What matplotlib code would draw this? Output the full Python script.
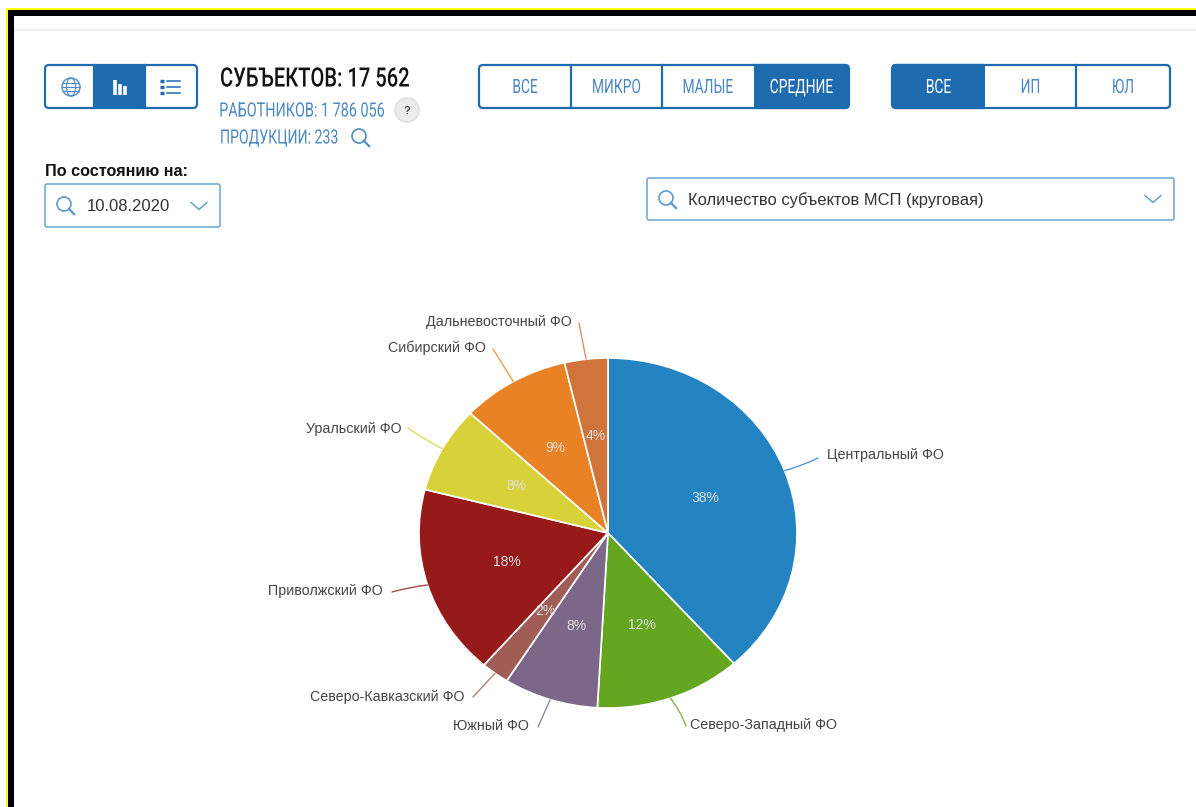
import numpy as np
import matplotlib
matplotlib.use('Agg')
import matplotlib.pyplot as plt
from matplotlib.patches import Rectangle, FancyBboxPatch, Circle, Ellipse
from matplotlib.patheffects import AbstractPathEffect
from matplotlib.text import Text
from matplotlib.transforms import Affine2D, Bbox

NARROW = 'Roboto'
SANS = 'Liberation Sans'

regions = ['Центральный ФО', 'Северо-Западный ФО', 'Южный ФО', 'Северо-Кавказский ФО',
           'Приволжский ФО', 'Уральский ФО', 'Сибирский ФО', 'Дальневосточный ФО']
shares = [38.4, 12.5, 8.1, 2.4, 17.6, 8.0, 9.3, 3.7]
pct_labels = ['38%', '12%', '8%', '2%', '18%', '8%', '9%', '4%']
colors = ['#2484c1', '#65a620', '#7b6888', '#a05d56', '#961a1a', '#d8d23a', '#e98125', '#d0743c']
date_label = '10.08.2020'
title = 'СУБЪЕКТОВ: 17 562'
workers = 'РАБОТНИКОВ: 1 786 056'
products = 'ПРОДУКЦИИ: 233'
size_buttons = ['ВСЕ', 'МИКРО', 'МАЛЫЕ', 'СРЕДНИЕ']
type_buttons = ['ВСЕ', 'ИП', 'ЮЛ']

W, H = 1196, 807
BLUE = '#1f6bb0'
LBLUE = '#4f8dc4'
TBLUE = '#4a88c2'
ICON = '#5b9bd0'
fig = plt.figure(figsize=(W / 100, H / 100), dpi=100, facecolor='white')

ui = fig.add_axes([0, 0, 1, 1], zorder=0)
ui.set_xlim(0, W); ui.set_ylim(H, 0); ui.axis('off')
ui.add_patch(Rectangle((6, 8), W, H, fc='#ffff00', ec='none'))
ui.add_patch(Rectangle((8, 10), W, H, fc='black', ec='none'))
ui.add_patch(Rectangle((14, 16), W, H, fc='white', ec='none'))
ui.plot([15, W], [30, 30], color='#e8effa', lw=1.5)


class Squeeze(AbstractPathEffect):
    """Draw a text narrower about a fixed pixel column, for the condensed face."""
    def __init__(self, sx, anchor):
        super().__init__()
        self.sx, self.anchor = sx, anchor

    def draw_path(self, renderer, gc, tpath, affine, rgbFace=None):
        squeeze = Affine2D().translate(-self.anchor, 0).scale(self.sx, 1).translate(self.anchor, 0)
        renderer.draw_path(gc, tpath, affine + squeeze, rgbFace)


class CondensedText(Text):
    def __init__(self, x, y, s, sx, **kw):
        super().__init__(x, y, s, **kw)
        self.sx = sx
        self.set_path_effects([Squeeze(sx, x)])

    def get_window_extent(self, renderer=None, dpi=None):
        b = super().get_window_extent(renderer, dpi)
        a = self.get_position()[0]
        return Bbox([[a + (b.x0 - a) * self.sx, b.y0], [a + (b.x1 - a) * self.sx, b.y1]])


def ctext(x, y, s, sx, **kw):
    t = CondensedText(x, y, s, sx, family=NARROW, va='center', **kw)
    ui.add_artist(t)
    t.set_clip_on(False)
    return t


def rbox(x0, y0, x1, y1, fc='white', ec=BLUE, lw=1.6, r=4, z=2):
    p = FancyBboxPatch((x0 + r, y0 + r), x1 - x0 - 2 * r, y1 - y0 - 2 * r,
                       boxstyle=f'round,pad={r},rounding_size={r}', fc=fc, ec=ec, lw=lw, zorder=z)
    ui.add_patch(p)
    return p


def button_group(edges, y0, y1, labels, selected):
    rbox(edges[0], y0, edges[-1], y1)
    for i, lab in enumerate(labels):
        a, b = edges[i], edges[i + 1]
        if i == selected:
            p = rbox(edges[0], y0, edges[-1], y1, fc=BLUE, z=3)
            p.set_clip_path(Rectangle((a, y0 - 3), b - a, y1 - y0 + 6, transform=ui.transData))
        if i > 0 and i != selected and i - 1 != selected:
            ui.plot([a, a], [y0, y1], color=BLUE, lw=1.6, zorder=3)
        if lab:
            ctext((a + b) / 2, (y0 + y1) / 2 + 1, lab, 0.7, ha='center', fontsize=14.2,
                  color='white' if i == selected else TBLUE, zorder=5)


def magnifier(x, y, r=6.5, color=ICON, lw=1.2):
    ui.add_patch(Circle((x, y), r, fc='none', ec=color, lw=lw, zorder=6))
    ui.plot([x + r * .7, x + r * 1.45], [y + r * .7, y + r * 1.45], color=color, lw=lw + .4, zorder=6)


def chevron(x, y, color=ICON):
    ui.plot([x - 8, x, x + 8], [y - 3.5, y + 3.5, y - 3.5], color=color, lw=1, zorder=6)


button_group([45, 94, 145, 197], 65, 108, ['', '', ''], None)
ui.add_patch(Rectangle((94, 65), 51, 43, fc=BLUE, ec='none', zorder=3))
ui.add_patch(Circle((71, 87), 9, fc='none', ec=LBLUE, lw=1, zorder=6))
ui.add_patch(Ellipse((71, 87), 9, 18, fc='none', ec=LBLUE, lw=.8, zorder=6))
for dy in (-4, 0, 4):
    half = np.sqrt(81 - dy ** 2)
    ui.plot([71 - half, 71 + half], [87 + dy, 87 + dy], color=LBLUE, lw=.8, zorder=6)
for bx, top in zip((114.5, 119.5, 124.5), (80, 84, 86)):
    ui.plot([bx, bx], [95, top], color='white', lw=2.6, solid_capstyle='butt', zorder=6)
for ly in (81, 87, 93):
    ui.plot([160, 164], [ly, ly], color=BLUE, lw=2.4, solid_capstyle='butt', zorder=6)
    ui.plot([167, 180], [ly, ly], color=BLUE, lw=1.1, zorder=6)

ctext(220, 79, title, 0.755, fontsize=19.2, weight='medium', color='#111111', ha='left')
ctext(385, 111, workers, 0.73, fontsize=14.2, color=TBLUE, ha='right')
ctext(220, 138, products, 0.715, fontsize=14.2, color=TBLUE, ha='left')
ui.add_patch(Circle((407, 110), 12, fc='#ececec', ec='#dddddd', lw=1))
ui.text(407, 110.5, '?', family=SANS, fontsize=8, weight='bold', color='#555555', ha='center', va='center')
magnifier(359, 136, r=7, color=LBLUE)

button_group([479, 571, 662, 754, 849], 65, 108, size_buttons, 3)
button_group([892, 985, 1076, 1170], 65, 108, type_buttons, 0)

ui.text(45, 171, 'По состоянию на:', family=SANS, weight='bold', fontsize=11.7, color='#111111', va='center', ha='left')
rbox(45, 184, 220, 227, ec=ICON, lw=1, r=2)
magnifier(64, 204, r=7)
ui.text(87, 206.5, date_label, family=SANS, fontsize=12, color='#333333', va='center', ha='left')
chevron(199, 206)

rbox(647, 178, 1174, 220, ec=ICON, lw=1, r=2)
magnifier(666, 198, r=7)
ui.text(688, 200, 'Количество субъектов МСП (круговая)', family=SANS, fontsize=11.9, color='#333333', va='center', ha='left')
chevron(1153, 199)

PX0, PX1, PY0, PY1 = 419, 797, 358, 708
ax = fig.add_axes([PX0 / W, 1 - PY1 / H, (PX1 - PX0) / W, (PY1 - PY0) / H], zorder=2)
wedges, _ = ax.pie(shares, colors=colors, startangle=90, counterclock=False, radius=1,
                   wedgeprops=dict(edgecolor='white', linewidth=1.2))
ax.set_aspect('auto')
ax.set_xlim(-1, 1); ax.set_ylim(-1, 1)
ax.patch.set_alpha(0)

overlay = fig.add_axes([0, 0, 1, 1], zorder=3)
overlay.set_xlim(0, W); overlay.set_ylim(H, 0); overlay.axis('off')
overlay.patch.set_alpha(0)

line_ends = [(818, 458), (686, 726), (538, 727), (473, 697), (392, 592), (408, 428), (493, 349), (579, 323)]
curves = [0.05, -0.08, 0, 0, 0.04, -0.04, 0, 0]
label_pos = [(827, 455, 'left'), (690, 725.5, 'left'), (529, 726.5, 'right'), (465, 696.5, 'right'),
             (383, 591.5, 'right'), (402, 428.5, 'right'), (486, 348, 'right'), (572, 322, 'right')]
pct_pos = [(705, 498), (642, 625), (576, 626), (545, 611), (507, 562), (516, 486), (555, 448), (596, 436)]

cx, cy = (PX0 + PX1) / 2, (PY0 + PY1) / 2
rx, ry = (PX1 - PX0) / 2, (PY1 - PY0) / 2
for w, col, end, rad, (lx, ly, ha), name, pct, (tx, ty) in zip(
        wedges, colors, line_ends, curves, label_pos, regions, pct_labels, pct_pos):
    th = np.deg2rad((w.theta1 + w.theta2) / 2)
    start = (cx + rx * np.cos(th), cy - ry * np.sin(th))
    overlay.annotate('', xy=end, xytext=start,
                     arrowprops=dict(arrowstyle='-', color=col, lw=1, alpha=.8,
                                     shrinkA=0, shrinkB=0,
                                     connectionstyle=f'arc3,rad={rad}'))
    overlay.text(lx, ly, name, family=SANS, fontsize=10.3, color='#444444', ha=ha, va='center')
    overlay.text(tx, ty, pct, family=SANS, fontsize=10, color='#e0e0e0', ha='center', va='center')

fig.savefig('out.png', dpi=100)
